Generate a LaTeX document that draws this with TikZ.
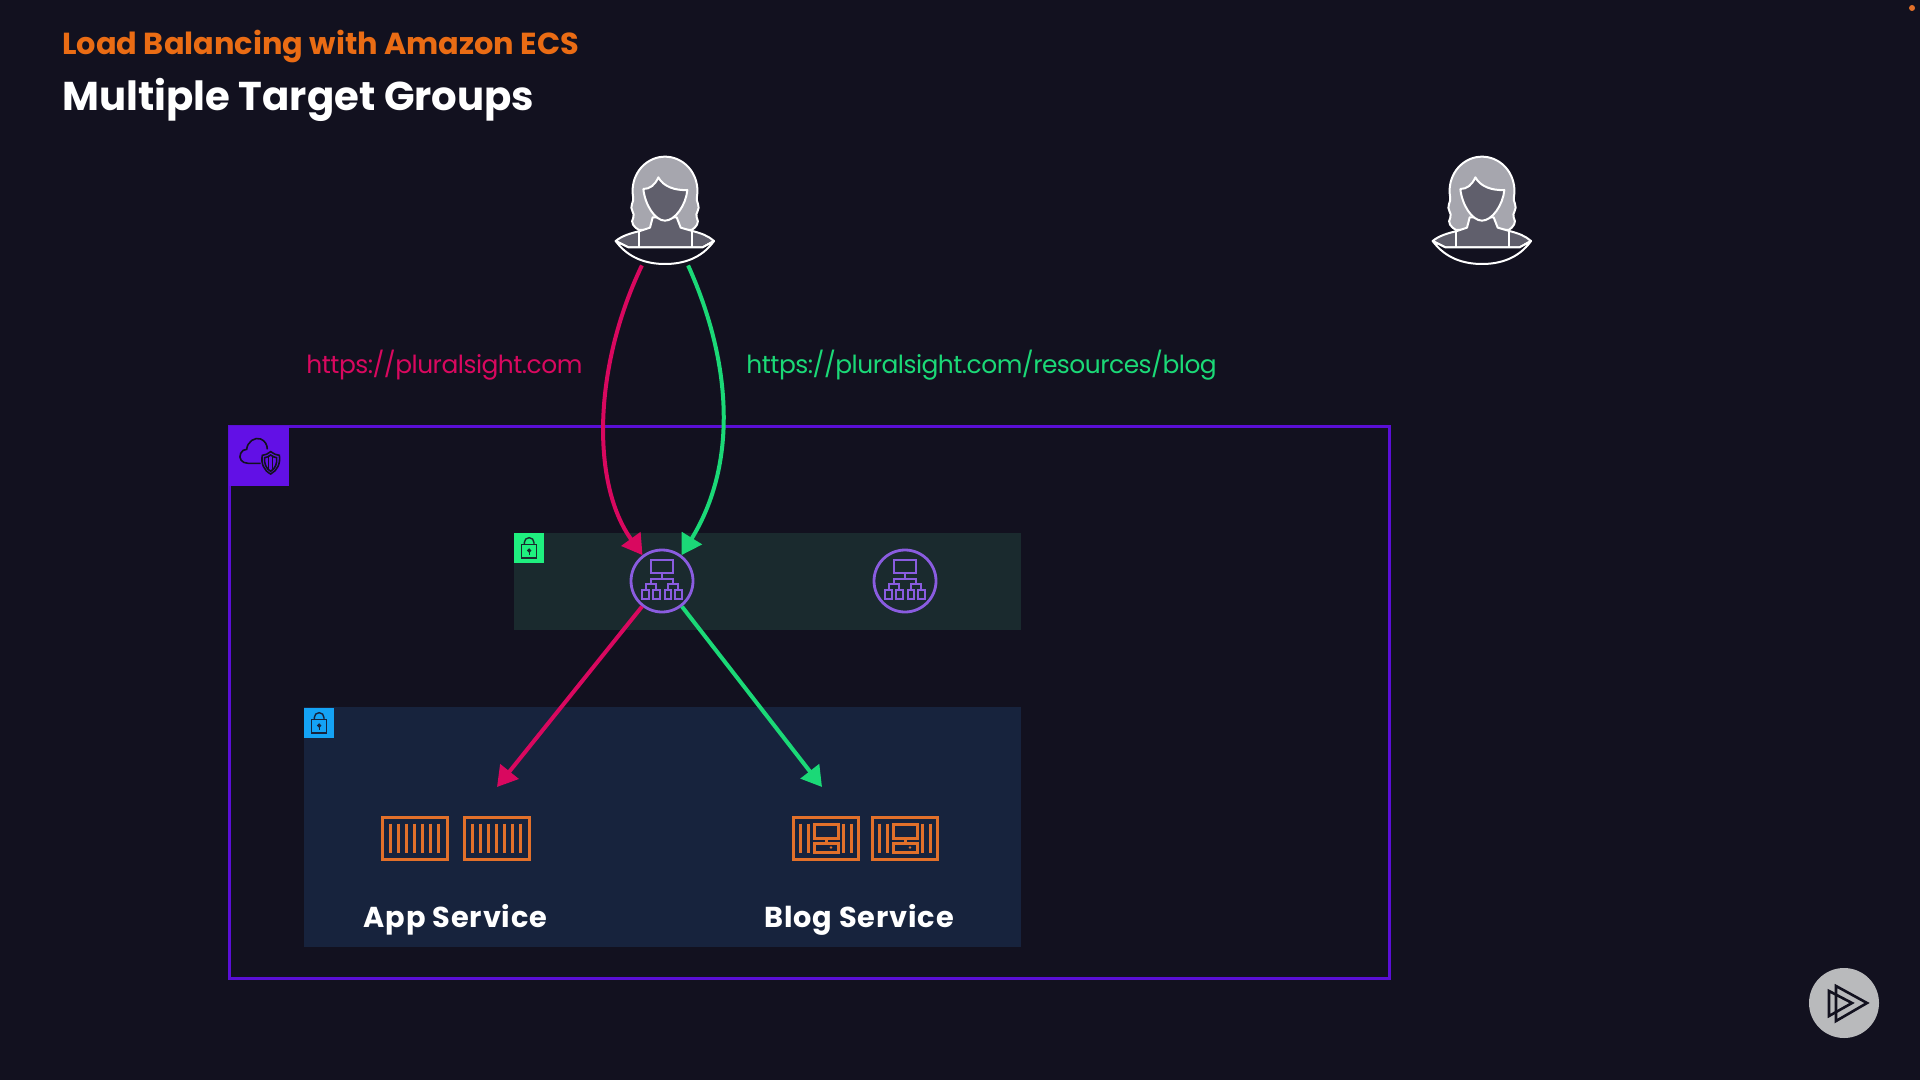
\documentclass[tikz,border=0pt]{standalone}
\usepackage{fontspec}
\setmainfont{Poppins}
\newfontfamily\titlefont{Poppins}
\newfontfamily\urlfont[LetterSpace=-2]{Poppins}
\newfontfamily\servicefont[LetterSpace=3]{Poppins}
\usetikzlibrary{arrows.meta,positioning}
\definecolor{bgdark}{HTML}{12111F}
\definecolor{pubband}{HTML}{1A2A2E}
\definecolor{privband}{HTML}{17233D}
\definecolor{vpcpurple}{HTML}{5A0FD6}
\definecolor{vpcfill}{HTML}{6210E6}
\definecolor{albpurple}{HTML}{8A5CE0}
\definecolor{crateorange}{HTML}{E2702A}
\definecolor{titleorange}{HTML}{EA6C14}
\definecolor{linkpink}{HTML}{D9085F}
\definecolor{linkgreen}{HTML}{1BD977}
\definecolor{lockgreen}{HTML}{1FF07F}
\definecolor{lockblue}{HTML}{14A3F5}
\definecolor{hairgrey}{HTML}{A6A6AE}
\definecolor{skingrey}{HTML}{605F6C}
\definecolor{playgrey}{HTML}{B9BABC}
\tikzstyle{band}=[rectangle,inner sep=0pt,outer sep=0pt,anchor=north west]
\tikzstyle{lockbox}=[rectangle,inner sep=0pt,outer sep=0pt,minimum size=15pt,anchor=north west]
\tikzstyle{albnode}=[circle,draw=albpurple,line width=1.4pt,minimum size=31pt,inner sep=0pt]
\tikzstyle{usernode}=[rectangle,inner sep=0pt,minimum width=50pt,minimum height=54pt]
\tikzstyle{edge}=[line width=2pt,-{Triangle[length=10pt,width=11.5pt]}]
\tikzstyle{url}=[inner sep=0pt,anchor=base west,font=\urlfont\fontsize{12.45pt}{16pt}\selectfont]
\tikzstyle{service}=[inner sep=0pt,anchor=base,white,font=\servicefont\bfseries\fontsize{14.4pt}{18pt}\selectfont]
\tikzset{
  person/.pic={
    \begin{scope}[scale=1/3,shift={(-315,-243)},draw=white,line width=1pt,line join=round]
      \filldraw[fill=hairgrey] (237,300) .. controls (222,292) and (210,278) .. (220,262)
        .. controls (226,250) and (208,238) .. (216,222) .. controls (224,206) and (216,198) .. (218,175)
        .. controls (222,120) and (265,80) .. (315,80) .. controls (365,80) and (408,120) .. (412,175)
        .. controls (414,198) and (406,206) .. (414,222) .. controls (422,238) and (404,250) .. (410,262)
        .. controls (420,278) and (408,292) .. (395,300) -- cycle;
      \filldraw[fill=skingrey] (167,333) .. controls (185,318) and (210,310) .. (240,303)
        -- (270,293) -- (278,262) -- (350,262) -- (362,293) -- (397,303)
        .. controls (425,310) and (445,318) .. (462,333) -- (428,352) -- (205,352) -- cycle;
      \filldraw[fill=bgdark] (167,333) -- (205,352) -- (428,352) -- (462,333)
        .. controls (425,385) and (370,402) .. (315,402) .. controls (260,402) and (205,385) .. (167,333) -- cycle;
      \draw (238,303) -- (238,352);
      \draw (397,303) -- (397,352);
      \filldraw[fill=skingrey] (295,142) .. controls (285,165) and (270,177) .. (250,177)
        .. controls (255,225) and (285,272) .. (315,272) .. controls (345,272) and (378,225) .. (382,180)
        .. controls (345,182) and (310,170) .. (295,142) -- cycle;
    \end{scope}
  },
  albicon/.pic={
    \begin{scope}[draw=albpurple,line width=1.15pt]
      \draw (-34,-62) rectangle (34,-25);
      \draw (0,-25) -- (0,-7);
      \draw (-34,10) -- (-34,-7) -- (34,-7) -- (34,10);
      \draw (-49,28) -- (-49,10) -- (-17,10) -- (-17,28);
      \draw (18,28) -- (18,10) -- (49,10) -- (49,28);
      \foreach \bx in {-49,-17,18,49}
        \draw (\bx-10,28) rectangle (\bx+10,53);
    \end{scope}
  },
  lockicon/.pic={
    \begin{scope}[line width=0.7pt]
      \draw (7.7,11.7) rectangle (22.7,25);
      \draw (10.3,11.7) -- (10.3,9.5) arc[start angle=180,end angle=360,radius=4.85] -- (20,11.7);
      \draw (15.2,17.5) circle[radius=1.3];
      \draw (15.2,18.8) -- (15.2,22);
    \end{scope}
  },
  appcrate/.pic={
    \begin{scope}[draw=crateorange,line width=1.5pt]
      \draw (0,0) rectangle (65,42);
      \foreach \bx in {8.7,16.7,24.3,32.3,40,48,56}
        \draw (\bx,6.7) -- (\bx,36);
    \end{scope}
  },
  blogcrate/.pic={
    \begin{scope}[draw=crateorange,line width=1.5pt]
      \draw (0,0) rectangle (65,42);
      \foreach \bx in {7.7,15.7,50,58}
        \draw (\bx,6.7) -- (\bx,36);
      \draw (21,7.7) rectangle (45,21);
      \draw (21,26) rectangle (45,35);
      \draw (33,21) -- (33,26);
      \fill[crateorange] (38,30.5) circle[radius=1.4];
    \end{scope}
  },
  vpcicon/.pic={
    \begin{scope}[draw=bgdark,line width=0.8pt]
      \draw (122,160) -- (85,160) .. controls (65,160) and (55,145) .. (62,130)
        .. controls (66,122) and (72,118) .. (80,118) .. controls (82,95) and (105,80) .. (122,87)
        .. controls (135,92) and (142,105) .. (142,118);
      \draw (152,125) .. controls (160,132) and (170,135) .. (178,136)
        .. controls (182,160) and (172,182) .. (152,192) .. controls (132,182) and (122,160) .. (127,136)
        .. controls (135,135) and (145,132) .. (152,125) -- cycle;
      \draw (152,135) .. controls (158,140) and (164,142) .. (170,143)
        .. controls (172,160) and (166,176) .. (152,184) .. controls (138,176) and (132,160) .. (134,143)
        .. controls (140,142) and (146,140) .. (152,135) -- cycle;
      \draw (146,140) -- (146,180);
      \draw (158,140) -- (158,180);
    \end{scope}
  }
}

\begin{document}
\begin{tikzpicture}[x=0.5pt,y=-0.5pt]

    \useasboundingbox[fill=bgdark] (0,0) rectangle (1920,1080);

    \node[inner sep=0pt,anchor=base west,titleorange,font=\titlefont\bfseries\fontsize{15.2pt}{18pt}\selectfont] (course) at (62,55) {Load Balancing with Amazon ECS};
    \node[inner sep=0pt,anchor=base west,white,font=\titlefont\bfseries\fontsize{20.1pt}{24pt}\selectfont] (slide) at (62,111) {Multiple Target Groups};

    % subnets and vpc
    \node[band,fill=pubband,minimum width=253.5pt,minimum height=48.5pt] (pubnet) at (514,533) {};
    \node[band,fill=privband,minimum width=358.5pt,minimum height=120pt] (privnet) at (304,707) {};
    \node[band,draw=vpcpurple,line width=1.5pt,minimum width=580pt,minimum height=276pt] (vpc) at (229.5,426) {};
    \node[lockbox,fill=vpcfill,minimum size=30pt] (vpcbox) at (229,426) {};
    \pic at (220,410) [scale=1/3] {vpcicon};

    \node[lockbox,fill=lockgreen] (publock) at (514,533) {};
    \pic[draw=pubband] at (514,533) {lockicon};
    \node[lockbox,fill=lockblue] (privlock) at (304,708) {};
    \pic[draw=privband] at (304,708) {lockicon};

    \foreach \x/\name in {662/alb1, 905/alb2} {
        \node[albnode] (\name) at (\x,581) {};
        \pic at (\name) [scale=1/3] {albicon};
    }

    \foreach \x/\name in {665/user1, 1482/user2} {
        \node[usernode] (\name) at (\x,211) {};
        \pic at (\x,211) {person};
    }

    \foreach \x in {382,464}
        \pic at (\x,817) {appcrate};
    \foreach \x in {793,872}
        \pic at (\x,817) {blogcrate};

    \coordinate (apptip) at (497,787);
    \coordinate (blogtip) at (822,787);

    \draw[edge,linkpink] (user1.247) .. controls (592,370) and (592,485) .. (alb1.127);
    \draw[edge,linkgreen] (user1.293) .. controls (733,365) and (737,465) .. (alb1.53);
    \draw[edge,linkpink] (alb1.232) -- (apptip);
    \draw[edge,linkgreen] (alb1.308) -- (blogtip);

    \node[url,linkpink] (urlapp) at (306,373) {https://pluralsight.com};
    \node[url,linkgreen] (urlblog) at (746,373) {https://pluralsight.com/resources/blog};

    \node[service] (appname) at (455.5,927) {App Service};
    \node[service] (blogname) at (859,927) {Blog Service};

    % player badge
    \node[circle,fill=playgrey,minimum size=35pt,inner sep=0pt] (play) at (1844,1003) {};
    \draw[bgdark,line width=1.3pt,line join=miter] (1836,986) -- (1867,1003) -- (1836,1021) -- cycle;
    \draw[bgdark,line width=1.3pt,line join=miter] (1829,991) -- (1852,1003) -- (1829,1016) -- cycle;

    \node[circle,fill=crateorange,minimum size=3pt,inner sep=0pt] (dot) at (1912,8) {};

\end{tikzpicture}
\end{document}
